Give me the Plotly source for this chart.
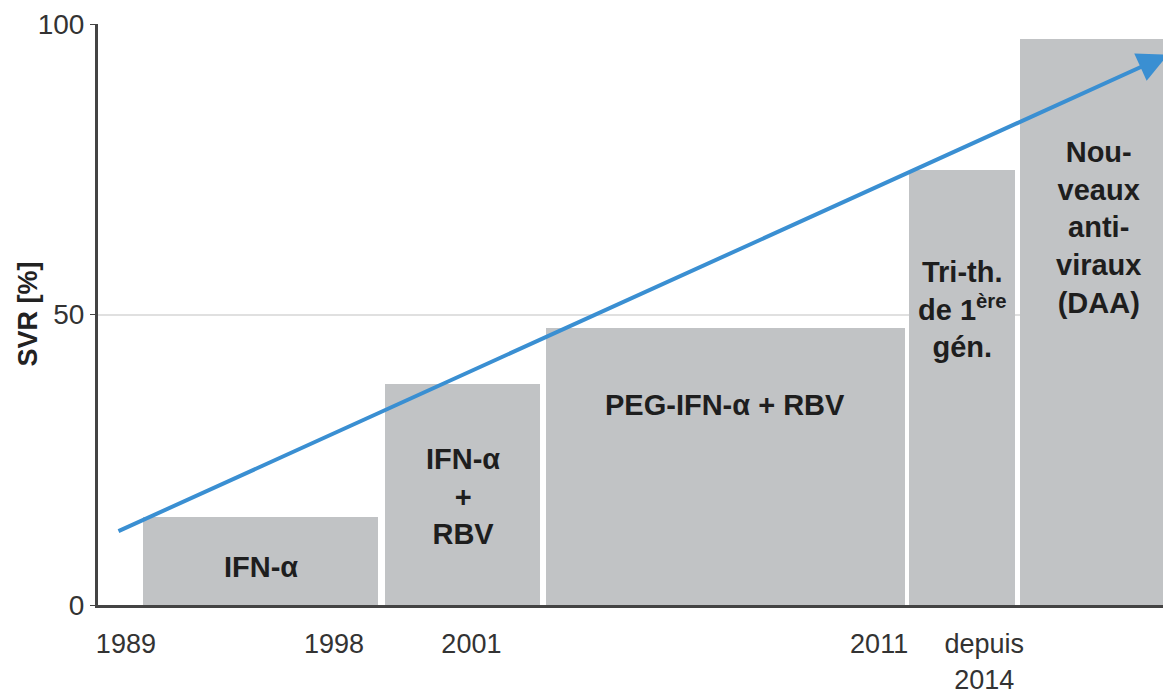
import plotly.graph_objects as go

# Data
periods = ["IFN-α", "IFN-α + RBV", "PEG-IFN-α + RBV", "Tri-th. 1ère gén.", "DAA"]
period_start = [4.2, 26.75, 41.75, 75.6, 85.9]   # arbitrary time-axis units
period_end = [26.1, 41.2, 75.2, 85.5, 100.5]
svr_values = [15.1, 38.0, 47.7, 74.9, 97.4]
bar_labels = [
    "IFN-α",
    "IFN-α<br>+<br>RBV",
    "PEG-IFN-α + RBV",
    "Tri-th.<br>de 1<sup>ère</sup><br>gén.",
    "Nou-<br>veaux<br>anti-<br>viraux<br>(DAA)",
]
label_y = [6.5, 18.6, 34.4, 50.8, 64.9]
tick_pos = [2.6, 22.0, 34.8, 72.8, 82.6]
tick_text = ["1989", "1998", "2001", "2011", "depuis<br>2014"]
trend_x = [1.77, 99.7]
trend_y = [12.6, 94.7]

FONT = "Liberation Sans, Arial, Helvetica, sans-serif"
centers = [(s + e) / 2 for s, e in zip(period_start, period_end)]
widths = [e - s for s, e in zip(period_start, period_end)]

fig = go.Figure()
fig.add_trace(go.Bar(
    x=centers, y=svr_values, width=widths,
    marker=dict(color="#c1c3c5", line=dict(width=0)),
    hoverinfo="skip", showlegend=False,
))

annotations = []
for cx, ly, txt in zip(centers, label_y, bar_labels):
    annotations.append(dict(
        x=cx, y=ly, xref="x", yref="y", text="<b>" + txt + "</b>",
        showarrow=False, font=dict(family=FONT, size=29, color="#1e1e1e"),
        align="center",
    ))

annotations.append(dict(
    x=trend_x[1], y=trend_y[1], ax=trend_x[0], ay=trend_y[0],
    xref="x", yref="y", axref="x", ayref="y", text="",
    showarrow=True, arrowhead=2, arrowsize=1.5, arrowwidth=4,
    arrowcolor="#3a8fd2",
))

# y-axis title placed as an annotation for precise position
annotations.append(dict(
    x=0, y=0.5, xref="paper", yref="paper", xanchor="center", yanchor="middle",
    xshift=-71, text="<b>SVR [%]</b>", textangle=-90, showarrow=False,
    font=dict(family=FONT, size=27, color="#222"),
))

# The page body has an 8px margin, so the figure is made 8px smaller
fig.update_layout(
    width=1163, height=689,
    margin=dict(l=90, r=0, t=16, b=92, autoexpand=False),
    plot_bgcolor="white", paper_bgcolor="white",
    bargap=0,
    annotations=annotations,
    xaxis=dict(
        range=[0, 100], showgrid=False, zeroline=False, automargin=False,
        showline=True, linecolor="#444", linewidth=3,
        tickmode="array", tickvals=tick_pos, ticktext=tick_text,
        ticks="outside", ticklen=13, tickcolor="rgba(0,0,0,0)",
        tickfont=dict(family=FONT, size=27, color="#333"),
    ),
    yaxis=dict(
        range=[0, 100], tickvals=[0, 50, 100], automargin=False,
        showgrid=True, gridcolor="#e0e0e0", gridwidth=1.5,
        zeroline=False, showline=True, linecolor="#444", linewidth=3,
        ticks="outside", ticklen=5, tickcolor="#444",
        tickfont=dict(family=FONT, size=28, color="#333"),
    ),
)

fig.write_html("out.html")
